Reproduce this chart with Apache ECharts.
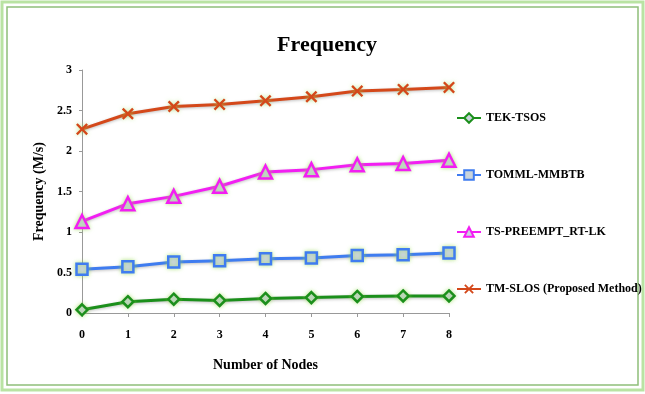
<!DOCTYPE html>
<html><head><meta charset="utf-8">
<script src="https://cdn.jsdelivr.net/npm/echarts@6/dist/echarts.min.js"></script>
<style>html,body{margin:0;padding:0;background:#fff}#c{width:645px;height:394px}</style>
</head><body><div id="c"></div>
<script>
const nodes = [0,1,2,3,4,5,6,7,8];
const tekTsos = [0.04,0.14,0.17,0.155,0.18,0.19,0.205,0.21,0.21];
const tommlMmbtb = [0.54,0.57,0.63,0.645,0.67,0.68,0.71,0.72,0.74];
const tsPreempt = [1.13,1.35,1.44,1.565,1.74,1.77,1.83,1.845,1.885];
const tmSlos = [2.27,2.46,2.55,2.575,2.62,2.67,2.74,2.76,2.785];
const seriesNames = ['TEK-TSOS','TOMML-MMBTB','TS-PREEMPT_RT-LK','TM-SLOS (Proposed Method)'];
const yTicks = ['0','0.5','1','1.5','2','2.5','3'];

const font = '"Liberation Serif","Times New Roman",serif';
const xPath = 'path://M0,1.4 L1.4,0 L5,3.6 L8.6,0 L10,1.4 L6.4,5 L10,8.6 L8.6,10 L5,6.4 L1.4,10 L0,8.6 L3.6,5 Z';
const colors = ['#1b8f1b','#3f7cf0','#f21ef2','#d4481a'];
const symbols = ['diamond','rect','triangle',xPath];
const sizes = [11,11,13,12];
const datas = [tekTsos,tommlMmbtb,tsPreempt,tmSlos];

const chart = echarts.init(document.getElementById('c'));
chart.setOption({
  backgroundColor:'#ffffff',
  animation:false,
  graphic:[
    {type:'rect',shape:{x:2,y:2,width:641,height:388},style:{fill:'none',stroke:'#b9e3a3',lineWidth:3}},
    {type:'rect',shape:{x:7,y:7,width:631,height:378},style:{fill:'none',stroke:'#8fbf7a',lineWidth:1.5}}
  ],
  title:{text:'Frequency',left:322,top:29,textAlign:'center',
    textStyle:{fontFamily:font,fontSize:22,fontWeight:'bold',color:'#000'}},
  grid:{left:82,right:196,top:70,bottom:81},
  legend:{
    orient:'vertical',left:451,top:107,itemGap:45,itemWidth:24,itemHeight:12,
    data:seriesNames,
    textStyle:{fontFamily:font,fontSize:12,fontWeight:'bold',color:'#000'}
  },
  xAxis:{
    type:'value',min:0,max:8,interval:1,
    name:'Number of Nodes',nameLocation:'middle',nameGap:45,
    nameTextStyle:{fontFamily:font,fontSize:14,fontWeight:'bold',color:'#000'},
    axisLine:{lineStyle:{color:'#999',width:1}},
    axisTick:{show:true,length:4,lineStyle:{color:'#999'}},
    axisLabel:{fontFamily:font,fontSize:12,fontWeight:'bold',color:'#000',margin:16,
      formatter:v=>String(nodes[v])},
    splitLine:{show:false}
  },
  yAxis:{
    type:'value',min:0,max:3,interval:0.5,
    name:'Frequency (M/s)',nameLocation:'middle',nameGap:35,
    nameTextStyle:{fontFamily:font,fontSize:14,fontWeight:'bold',color:'#000'},
    axisLine:{show:true,lineStyle:{color:'#999',width:1}},
    axisTick:{show:true,length:3,lineStyle:{color:'#999'}},
    axisLabel:{fontFamily:font,fontSize:12,fontWeight:'bold',color:'#000',margin:10,
      formatter:v=>yTicks[Math.round(v*2)]},
    splitLine:{show:false}
  },
  series:seriesNames.map((n,i)=>({
    name:n,type:'line',
    data:datas[i].map((v,j)=>[nodes[j],v]),
    symbol:symbols[i],symbolSize:sizes[i],showAllSymbol:true,
    lineStyle:{color:colors[i],width:3,shadowColor:'rgba(0,0,0,0.25)',shadowBlur:3,shadowOffsetY:1},
    itemStyle:{color:i===3?colors[i]:'#c9d4dc',borderColor:colors[i],borderWidth:i===3?0:2.5,
      shadowColor:'rgba(150,220,80,0.6)',shadowBlur:4},
    z:2+i
  }))
});
</script></body></html>
